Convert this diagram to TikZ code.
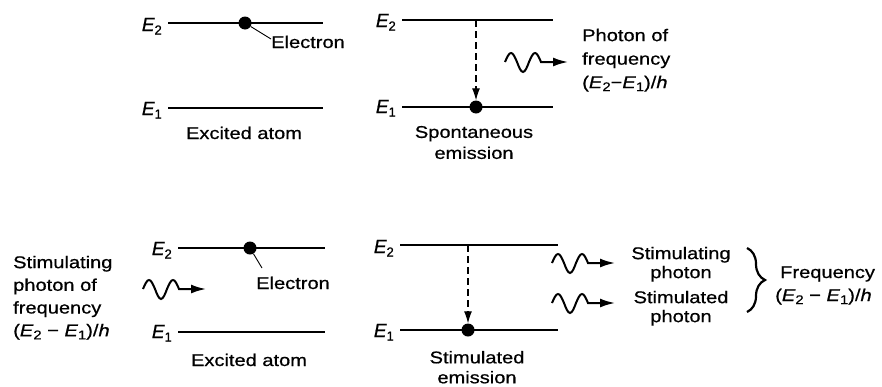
\documentclass[tikz,border=0pt]{standalone}
\usepackage{fontspec}
\setmainfont{Liberation Sans}[FakeStretch=1.18,FakeBold=0.7]
\newfontfamily\efont{Liberation Sans}[FakeBold=0.8]
\usetikzlibrary{arrows.meta,decorations.pathreplacing}
\newcommand{\Elab}[1]{{\efont\fontsize{19}{19}\selectfont\itshape E\raisebox{-3.5pt}{\fontsize{13}{13}\selectfont\upshape #1}}}
\newcommand{\Es}[1]{\textit{E}\raisebox{-3pt}{\fontsize{12.5}{12.5}\selectfont #1}}
\newcommand{\mminus}{\char"2212}
\begin{document}
\begin{tikzpicture}[x=1pt,y=-1pt,
  level/.style={line width=1.6pt},
  dotnode/.style={circle,fill=black,inner sep=0pt,minimum size=13pt},
  dasharrow/.style={line width=1.1pt,dash pattern=on 7pt off 4pt,-{Latex[length=12pt,width=8pt]}},
  leader/.style={line width=0.9pt},
  txt/.style={inner sep=0pt,font=\fontsize{17}{22}\selectfont},
  elab/.style={inner sep=0pt,anchor=base east},
  photonwave/.pic={\draw[line width=2pt,-{Latex[length=15pt,width=9pt]}]
     (0,0) sin (6,-9) cos (12,0) sin (18,10) cos (24,0) sin (30,-9) cos (36,0) -- (63,0);}
]
\useasboundingbox (0,0) rectangle (882,386);

% ---------- top left: excited atom ----------
\coordinate (a2s) at (168,23); \coordinate (a2e) at (323,23);
\coordinate (a1s) at (168,108); \coordinate (a1e) at (323,108);
\draw[level] (a2s) -- (a2e);
\draw[level] (a1s) -- (a1e);
\node[elab] (aE2) at (162,31) {\Elab{2}};
\node[elab] (aE1) at (162,115) {\Elab{1}};
\node[dotnode] (ad) at (245,23) {};
\node[txt,anchor=base west] (ael) at (271,48) {Electron};
\coordinate (al) at (271,39);
\draw[leader] (ad) -- (al);
\node[txt,anchor=base] (aex) at (244,139) {Excited atom};

% ---------- top middle: spontaneous emission ----------
\coordinate (b2s) at (402,20); \coordinate (b2e) at (553,20);
\coordinate (b1s) at (402,107); \coordinate (b1e) at (553,107);
\draw[level] (b2s) -- (b2e);
\draw[level] (b1s) -- (b1e);
\node[elab] (bE2) at (396,27) {\Elab{2}};
\node[elab] (bE1) at (396,113) {\Elab{1}};
\node[dotnode] (bd) at (476,107) {};
\coordinate (bt) at (476,20);
\draw[dasharrow] (bt) -- (bd.north);
\pic at (505,62) {photonwave};
\node[txt,anchor=north west,align=left,font=\fontsize{17}{23.5}\selectfont] (bph) at (582,28.6)
  {Photon of\\frequency\\(\Es{2}\mminus\Es{1})/\textit{h}};
\node[txt,anchor=north,align=center,font=\fontsize{17}{21}\selectfont] (bsp) at (474,125.8)
  {Spontaneous\\emission};

% ---------- bottom left: stimulating photon + excited atom ----------
\coordinate (c2s) at (178,248); \coordinate (c2e) at (325,248);
\coordinate (c1s) at (178,332); \coordinate (c1e) at (325,332);
\draw[level] (c2s) -- (c2e);
\draw[level] (c1s) -- (c1e);
\node[elab] (cE2) at (172,255) {\Elab{2}};
\node[elab] (cE1) at (172,338) {\Elab{1}};
\node[dotnode] (cd) at (250,248) {};
\node[txt,anchor=base west] (cel) at (256,289) {Electron};
\coordinate (cl) at (262,268);
\draw[leader] (cd) -- (cl);
\node[txt,anchor=base] (cex) at (249,366) {Excited atom};
\pic at (143,289) {photonwave};
\node[txt,anchor=north west,align=left,font=\fontsize{17}{22.7}\selectfont] (cst) at (13,255.6)
  {Stimulating\\photon of\\frequency\\(\Es{2} \mminus\ \Es{1})/\textit{h}};

% ---------- bottom middle: stimulated emission ----------
\coordinate (d2s) at (400,245); \coordinate (d2e) at (558,245);
\coordinate (d1s) at (400,330); \coordinate (d1e) at (558,330);
\draw[level] (d2s) -- (d2e);
\draw[level] (d1s) -- (d1e);
\node[elab] (dE2) at (394,253) {\Elab{2}};
\node[elab] (dE1) at (394,337) {\Elab{1}};
\node[dotnode] (dd) at (468,330) {};
\coordinate (dt) at (468,245);
\draw[dasharrow] (dt) -- (dd.north);
\node[txt,anchor=north,align=center,font=\fontsize{17}{20}\selectfont] (dsp) at (477,350.8)
  {Stimulated\\emission};
\pic at (552,263) {photonwave};
\pic at (552,303) {photonwave};
\node[txt,anchor=north,align=center,font=\fontsize{17}{19}\selectfont] (dp1) at (681,246.6)
  {Stimulating\\photon};
\node[txt,anchor=north,align=center,font=\fontsize{17}{19}\selectfont] (dp2) at (681,290.6)
  {Stimulated\\photon};
\coordinate (br1) at (747,248); \coordinate (br2) at (747,312);
\draw[line width=2.2pt,decorate,decoration={brace,amplitude=18pt}] (br1) -- (br2);
\node[txt,anchor=base west] (dfr) at (780,278) {Frequency};
\node[txt,anchor=base west] (dfq) at (775,301) {(\Es{2} \mminus\ \Es{1})/\textit{h}};
\end{tikzpicture}
\end{document}
